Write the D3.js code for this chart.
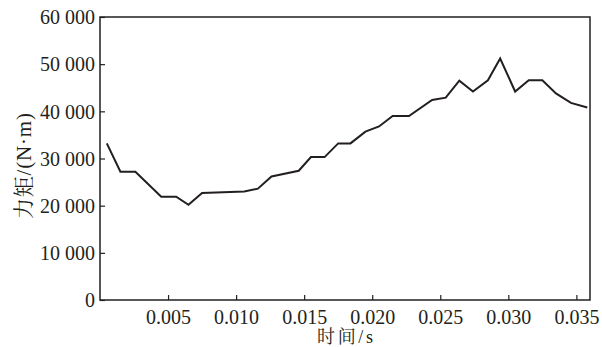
<!DOCTYPE html>
<html lang="zh">
<head>
<meta charset="UTF-8">
<title>力矩-时间</title>
<script src="https://cdn.jsdelivr.net/npm/d3@7/dist/d3.min.js"></script>
<style>
  body { margin: 0; background: #fff; }
  svg { display: block; }
</style>
</head>
<body>
<svg width="602" height="347"></svg>
<script>
// 数据
var times  = [0.0005, 0.0015, 0.0026, 0.0045, 0.0056, 0.0065, 0.0075, 0.0106, 0.0116, 0.0126,
              0.0146, 0.0155, 0.0165, 0.0175, 0.0184, 0.0195, 0.0205, 0.0215, 0.0227, 0.0244,
              0.0254, 0.0264, 0.0274, 0.0285, 0.0294, 0.0305, 0.0315, 0.0325, 0.0335, 0.0346, 0.0358];
var torque = [33200, 27200, 27200, 21900, 21900, 20200, 22700, 23000, 23600, 26200,
              27400, 30300, 30300, 33200, 33200, 35700, 36800, 39000, 39000, 42400,
              42900, 46500, 44200, 46600, 51200, 44200, 46600, 46600, 43800, 41800, 40800];
var xTicks = [0.005, 0.010, 0.015, 0.020, 0.025, 0.030, 0.035];
var yTicks = [0, 10000, 20000, 30000, 40000, 50000, 60000];
var xLabel = "时间/s";
var yLabel = "力矩/(N·m)";

var serif = "'Liberation Serif', 'Noto Serif CJK SC', 'Noto Sans CJK SC', serif";
var ink = "#231f20";

var svg = d3.select("svg");
var m = {left: 100, right: 590, top: 17, bottom: 300};

var x = d3.scaleLinear().domain([0, 0.036]).range([m.left, m.right]);
var y = d3.scaleLinear().domain([0, 60000]).range([m.bottom, m.top]);

var fmtY = function(d) { return d3.format(",")(d).replace(/,/g, " "); };

// 边框
svg.append("rect")
  .attr("x", m.left).attr("y", m.top)
  .attr("width", m.right - m.left).attr("height", m.bottom - m.top)
  .attr("fill", "none").attr("stroke", ink).attr("stroke-width", 1.5);

// x轴
var gx = svg.append("g")
  .attr("transform", "translate(0," + m.bottom + ")")
  .call(d3.axisBottom(x).tickValues(xTicks).tickFormat(d3.format(".3f")).tickSizeInner(-5).tickSizeOuter(0));
gx.attr("font-family", serif).attr("font-size", 20);
gx.select(".domain").remove();
gx.selectAll(".tick line").attr("stroke", ink).attr("stroke-width", 1.2);
gx.selectAll(".tick text").attr("y", 23.5).attr("dy", null).attr("fill", ink);

// y轴
var gy = svg.append("g")
  .attr("transform", "translate(" + m.left + ",0)")
  .call(d3.axisLeft(y).tickValues(yTicks).tickFormat(fmtY).tickSizeInner(-5).tickSizeOuter(0).tickPadding(5));
gy.attr("font-family", serif).attr("font-size", 20);
gy.select(".domain").remove();
gy.selectAll(".tick line").attr("stroke", ink).attr("stroke-width", 1.2);
gy.selectAll(".tick text").attr("dy", "0.34em").attr("fill", ink);

// 轴标题
svg.append("text")
  .attr("font-family", serif).attr("fill", ink)
  .attr("x", 345).attr("y", 343)
  .attr("text-anchor", "middle").attr("font-size", 18)
  .attr("textLength", 56)
  .text(xLabel);

svg.append("text")
  .attr("font-family", serif).attr("fill", ink)
  .attr("transform", "translate(31,166) rotate(-90)")
  .attr("text-anchor", "middle").attr("font-size", 21)
  .attr("textLength", 106)
  .text(yLabel);

// 曲线
var line = d3.line()
  .x(function(d, i) { return x(times[i]); })
  .y(function(d) { return y(d); });

svg.append("path")
  .datum(torque)
  .attr("d", line)
  .attr("fill", "none")
  .attr("stroke", ink)
  .attr("stroke-width", 2)
  .attr("stroke-linejoin", "miter");
</script>
</body>
</html>
